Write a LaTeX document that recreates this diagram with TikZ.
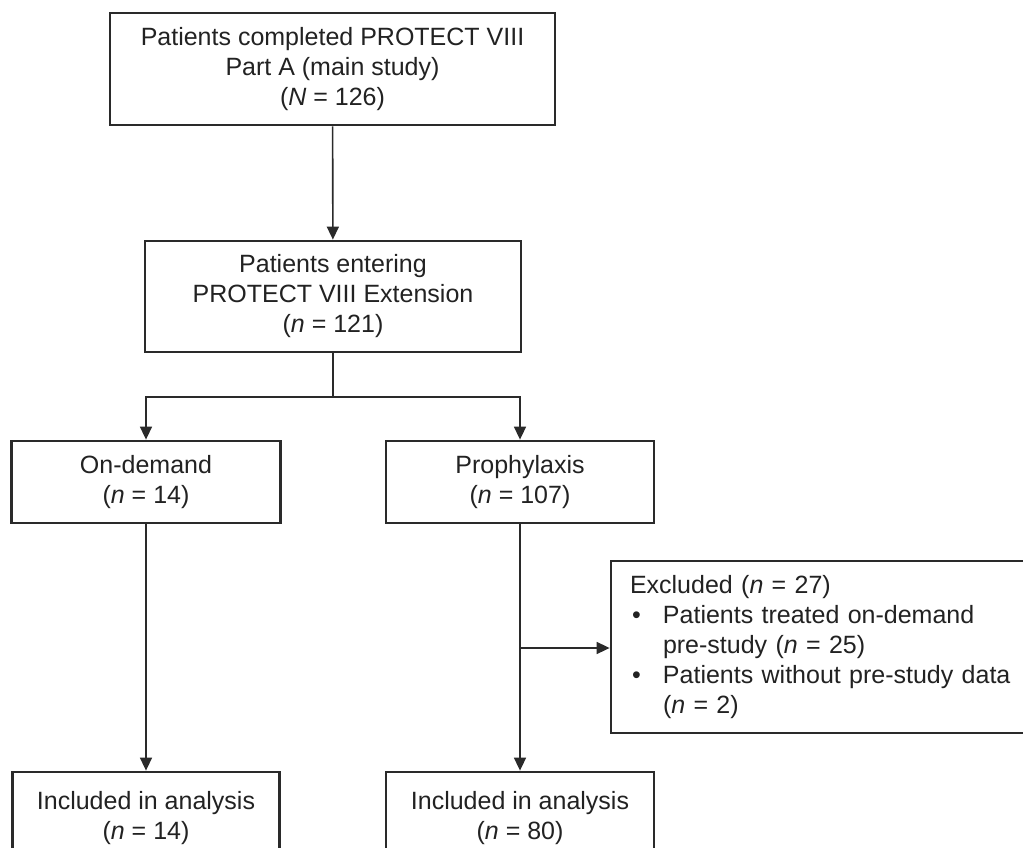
\documentclass[tikz,border=0pt]{standalone}
\usepackage{fontspec}
\setmainfont{Liberation Sans}
\usetikzlibrary{arrows.meta,calc}
\definecolor{ink}{HTML}{222222}
\definecolor{frame}{HTML}{2A2A2A}
\begin{document}
\begin{tikzpicture}[x=1pt,y=-1pt,
  box/.style={draw=frame,line width=2.8pt,fill=white,inner sep=0pt,align=center,text=ink,
    font=\fontsize{25}{30}\selectfont},
  conn/.style={draw=frame,line width=1.6pt},
  arr/.style={conn,-{Triangle[length=13pt,width=12pt]}}]
\useasboundingbox (0,0) rectangle (1023,848);
\clip (0,0) rectangle (1023,848);
\fill[white] (0,0) rectangle (1023,848);
\node[box,minimum width=445pt,minimum height=112pt] (top) at (332.5,69)
  {Patients completed PROTECT VIII\\Part A (main study)\\(\textit{N} = 126)};
\node[box,minimum width=376pt,minimum height=111pt] (ext) at (333,296.5)
  {Patients entering\\PROTECT VIII Extension\\(\textit{n} = 121)};
\node[box,minimum width=269pt,minimum height=82pt] (od) at (146,482)
  {On-demand\\(\textit{n} = 14)};
\node[box,minimum width=268pt,minimum height=82pt] (pr) at (520,482)
  {Prophylaxis\\(\textit{n} = 107)};
\node[box,align=left,text width=392pt,inner xsep=19pt,minimum height=172pt] (ex) at (826,647)
  {Excluded (\textit{n} = 27)\\
   \makebox[33pt][l]{\hspace{2pt}•}Patients treated on-demand\\
   \hspace*{33pt}pre-study (\textit{n} = 25)\\
   \makebox[33pt][l]{\hspace{2pt}•}Patients without pre-study data\\
   \hspace*{33pt}(\textit{n} = 2)};
\node[box,minimum width=267pt,minimum height=92pt] (inc1) at (146,818)
  {Included in analysis\\(\textit{n} = 14)};
\node[box,minimum width=268pt,minimum height=92pt] (inc2) at (520,818)
  {Included in analysis\\(\textit{n} = 80)};
\coordinate (br) at (333,397);
\coordinate (sj) at (520,648);
\draw[arr] (top) -- (ext);
\draw[conn] (ext.south) -- (br);
\draw[arr] (br) -| (od.north);
\draw[arr] (br) -| (pr.north);
\draw[arr] (od) -- (inc1);
\draw[arr] (pr) -- (inc2);
\draw[arr] (sj) -- (sj -| ex.west);
\end{tikzpicture}
\end{document}
